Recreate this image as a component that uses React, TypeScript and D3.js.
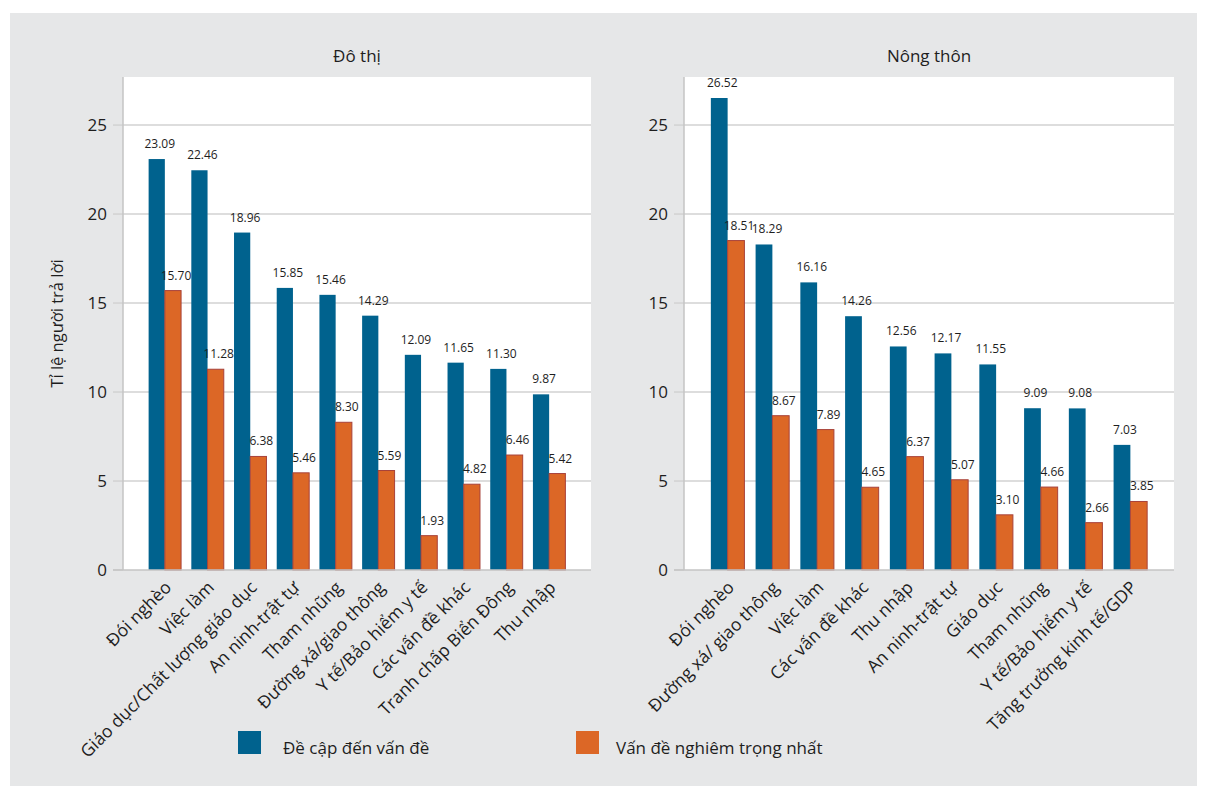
import React from "react";
import * as d3 from "d3";

// Urban panel
const urbanCategories = [
  "Đói nghèo",
  "Việc làm",
  "Giáo dục/Chất lượng giáo dục",
  "An ninh-trật tự",
  "Tham nhũng",
  "Đường xá/giao thông",
  "Y tế/Bảo hiểm y tế",
  "Các vấn đề khác",
  "Tranh chấp Biển Đông",
  "Thu nhập",
];
const urbanMentioned = [23.09, 22.46, 18.96, 15.85, 15.46, 14.29, 12.09, 11.65, 11.3, 9.87];
const urbanMostSerious = [15.7, 11.28, 6.38, 5.46, 8.3, 5.59, 1.93, 4.82, 6.46, 5.42];

// Rural panel
const ruralCategories = [
  "Đói nghèo",
  "Đường xá/ giao thông",
  "Việc làm",
  "Các vấn đề khác",
  "Thu nhập",
  "An ninh-trật tự",
  "Giáo dục",
  "Tham nhũng",
  "Y tế/Bảo hiểm y tế",
  "Tăng trưởng kinh tế/GDP",
];
const ruralMentioned = [26.52, 18.29, 16.16, 14.26, 12.56, 12.17, 11.55, 9.09, 9.08, 7.03];
const ruralMostSerious = [18.51, 8.67, 7.89, 4.65, 6.37, 5.07, 3.1, 4.66, 2.66, 3.85];

const yTicks = [0, 5, 10, 15, 20, 25];
const seriesNames = ["Đề cập đến vấn đề", "Vấn đề nghiêm trọng nhất"];

const W = 1207;
const H = 786;
const FONT = "'Open Sans', 'Noto Sans', sans-serif";
const BLUE = "#00628e";
const ORANGE = "#dc6726";
const ORANGE_EDGE = "#a8423a";
const BG = "#e6e7e8";
const GRID = "#d2d2d2";
const TEXT = "#1e1e1e";

const plotTop = 77;
const plotBottom = 570;
const yMax = 27.7;

type PanelProps = {
  title: string;
  x0: number;
  x1: number;
  categories: string[];
  mentioned: number[];
  serious: number[];
  padInner: number;
};

function Panel({ title, x0, x1, categories, mentioned, serious, padInner }: PanelProps) {
  const y = d3.scaleLinear().domain([0, yMax]).range([plotBottom, plotTop]);
  const x = d3.scaleBand<string>().domain(categories).range([x0, x1]).paddingInner(padInner).paddingOuter(0.6);
  const sub = d3.scaleBand<number>().domain([0, 1]).range([0, x.bandwidth()]);
  const bw = sub.bandwidth();
  const fmt = d3.format(".2f");

  return (
    <g>
      <rect x={x0} y={plotTop} width={x1 - x0} height={plotBottom - plotTop} fill="#ffffff" />
      <text x={(x0 + x1) / 2} y={62} textAnchor="middle" fontSize={17} fill={TEXT} fontFamily={FONT}>
        {title}
      </text>
      {yTicks.map((t) => (
        <g key={t}>
          {t > 0 && <line x1={x0} x2={x1} y1={y(t)} y2={y(t)} stroke={GRID} strokeWidth={1.5} />}
          <line x1={x0 - 10} x2={x0} y1={y(t)} y2={y(t)} stroke={GRID} strokeWidth={1.5} />
          <text x={x0 - 16} y={y(t)} dy="0.35em" textAnchor="end" fontSize={17} fill={TEXT} fontFamily={FONT}>
            {t}
          </text>
        </g>
      ))}
      {categories.map((c, i) => {
        const bx = x(c)!;
        const vals = [mentioned[i], serious[i]];
        return (
          <g key={c}>
            {vals.map((v, s) => (
              <rect
                key={s}
                x={bx + sub(s)!}
                y={y(v)}
                width={bw}
                height={y(0) - y(v)}
                fill={s === 0 ? BLUE : ORANGE}
                stroke={s === 0 ? "none" : ORANGE_EDGE}
                strokeWidth={s === 0 ? 0 : 1}
              />
            ))}
            {vals.map((v, s) => (
              <text
                key={"l" + s}
                x={bx + sub(s)! + bw / 2 + 3}
                y={y(v) - 11}
                textAnchor="middle"
                fontSize={12}
                fill={TEXT}
                fontFamily={FONT}
              >
                {fmt(v)}
              </text>
            ))}
            <text
              transform={`translate(${bx + x.bandwidth() / 2 - 1},${plotBottom + 10}) rotate(-45)`}
              textAnchor="end"
              dy="0.7em"
              fontSize={17.5}
              fill={TEXT}
              fontFamily={FONT}
            >
              {c}
            </text>
          </g>
        );
      })}
      <line x1={x0} x2={x0} y1={plotTop} y2={plotBottom} stroke="#c4c4c4" strokeWidth={1.5} />
      <line x1={x0 - 10} x2={x1} y1={plotBottom} y2={plotBottom} stroke="#c4c4c4" strokeWidth={1.5} />
    </g>
  );
}

export default function App() {
  return (
    <svg width={W} height={H} style={{ position: "absolute", left: 0, top: 0, display: "block" }}>
      <rect x={0} y={0} width={W} height={H} fill="#ffffff" />
      <rect x={10} y={13} width={1187} height={H - 13} fill={BG} />
      <Panel
        title="Đô thị"
        x0={123}
        x1={591}
        categories={urbanCategories}
        mentioned={urbanMentioned}
        serious={urbanMostSerious}
        padInner={0.24}
      />
      <Panel
        title="Nông thôn"
        x0={684}
        x1={1174}
        categories={ruralCategories}
        mentioned={ruralMentioned}
        serious={ruralMostSerious}
        padInner={0.25}
      />
      <text
        transform={`translate(63,${(plotTop + plotBottom) / 2}) rotate(-90)`}
        textAnchor="middle"
        fontSize={16.5}
        fill={TEXT}
        fontFamily={FONT}
      >
        Tỉ lệ người trả lời
      </text>
      {seriesNames.map((name, i) => {
        const lx = i === 0 ? 238 : 576;
        return (
          <g key={name}>
            <rect x={lx} y={731} width={23} height={23} fill={i === 0 ? BLUE : ORANGE} />
            <text x={lx + (i === 0 ? 45 : 40)} y={748} dy="0.35em" fontSize={17} fill={TEXT} fontFamily={FONT}>
              {name}
            </text>
          </g>
        );
      })}
    </svg>
  );
}
